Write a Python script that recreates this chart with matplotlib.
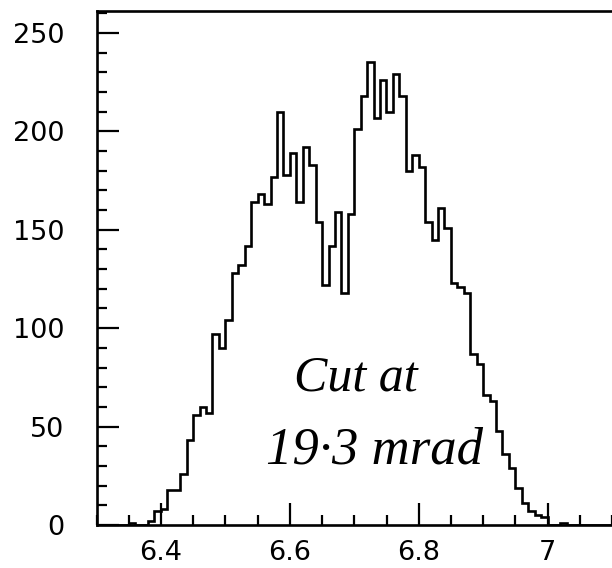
import numpy as np
import matplotlib
matplotlib.use("Agg")
import matplotlib.pyplot as plt
from matplotlib.ticker import FixedLocator, MultipleLocator, FixedFormatter

# ── data: counts per 0.01 bin, starting at 6.30 ─────────────────────────
BIN_START = 6.30
BIN_WIDTH = 0.01
counts = [
    0, 0, 0, 0, 0, 1, 0, 0, 2, 7,            # 6.30 – 6.39
    8, 18, 18, 26, 43, 56, 60, 57, 97, 90,   # 6.40 – 6.49
    104, 128, 132, 142, 164, 168, 163, 177, 210, 178,  # 6.50 – 6.59
    189, 164, 192, 183, 154, 122, 142, 159, 118, 158,  # 6.60 – 6.69
    201, 218, 235, 207, 226, 210, 229, 218, 180, 188,  # 6.70 – 6.79
    182, 154, 145, 161, 151, 123, 121, 118, 87, 82,    # 6.80 – 6.89
    66, 63, 48, 36, 29, 19, 11, 7, 5, 4,               # 6.90 – 6.99
    0, 0, 1, 0, 0, 0, 0, 0, 0, 0,                      # 7.00 – 7.09
]
x_major = [6.4, 6.6, 6.8, 7.0]
x_labels = ["6.4", "6.6", "6.8", "7"]
y_major = [0, 50, 100, 150, 200, 250]
note_1 = "Cut at"
note_2 = "19·3 mrad"

edges = BIN_START + BIN_WIDTH * np.arange(len(counts) + 1)

W, H = 612, 568
fig = plt.figure(figsize=(W / 100, H / 100), dpi=100, facecolor="white")

# axes run past the right edge of the picture, like the scanned original
ax_l, ax_r, ax_t, ax_b = 96.5, 676.5, 10.7, 525
ax = fig.add_axes([ax_l / W, 1 - ax_b / H, (ax_r - ax_l) / W, (ax_b - ax_t) / H])
ax.set_xlim(6.3, 7.2)
ax.set_ylim(0, 261.3)

ax.stairs(counts, edges, color="black", lw=1.9, baseline=0, zorder=3)

for s in ["top", "right", "bottom", "left"]:
    ax.spines[s].set_linewidth(1.9)

ax.xaxis.set_major_locator(FixedLocator(x_major))
ax.xaxis.set_major_formatter(FixedFormatter(x_labels))
ax.xaxis.set_minor_locator(MultipleLocator(0.05))
ax.yaxis.set_major_locator(FixedLocator(y_major))
ax.yaxis.set_minor_locator(MultipleLocator(10))

ax.tick_params(which="both", direction="in", width=1.6, color="black")
ax.tick_params(which="major", length=16)
ax.tick_params(which="minor", length=7.5)
ax.tick_params(axis="x", which="major", pad=11, labelsize=19.5)
ax.tick_params(axis="y", which="major", pad=23, labelsize=19.5)
for lab in ax.get_xticklabels() + ax.get_yticklabels():
    lab.set_fontfamily("DejaVu Sans")

# handwritten note
fig.text(356 / W, 1 - 378 / H, note_1, ha="center", va="center",
         fontsize=36, fontstyle="italic", family="Liberation Serif")
fig.text(375 / W, 1 - 451 / H, note_2, ha="center", va="center",
         fontsize=38, fontstyle="italic", family="Liberation Serif")

fig.savefig("out.png", dpi=100, facecolor="white")
